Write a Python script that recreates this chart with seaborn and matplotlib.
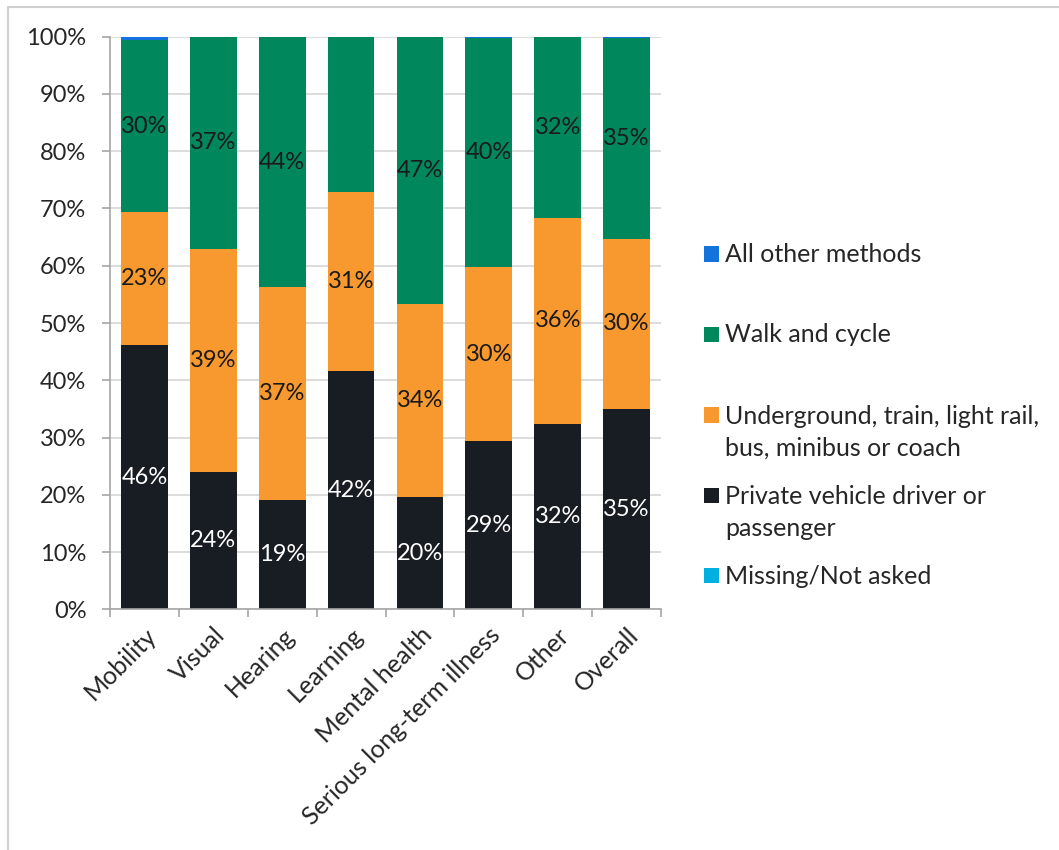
import numpy as np
import pandas as pd
import matplotlib
matplotlib.use("Agg")
import matplotlib.pyplot as plt
import seaborn as sns
from matplotlib.lines import Line2D
from matplotlib.patches import Rectangle

# Travel method shares (%) by type of impairment
categories = ["Mobility", "Visual", "Hearing", "Learning", "Mental health",
              "Serious long-term illness", "Other", "Overall"]
missing = [0.0, 0.0, 0.0, 0.0, 0.0, 0.0, 0.0, 0.0]
private_vehicle = [46.2, 23.9, 19.1, 41.6, 19.6, 29.4, 32.4, 35.0]
public_transport = [23.1, 39.1, 37.1, 31.2, 33.7, 30.3, 35.9, 29.7]
walk_cycle = [30.2, 37.0, 43.8, 27.2, 46.7, 40.1, 31.7, 35.1]
other_methods = [0.5, 0.0, 0.0, 0.0, 0.0, 0.2, 0.0, 0.2]

series_names = ["Missing/Not asked", "Private vehicle driver or passenger",
                "Underground, train, light rail, bus, minibus or coach",
                "Walk and cycle", "All other methods"]
series_values = [missing, private_vehicle, public_transport, walk_cycle, other_methods]
series_colors = ["#00B0E0", "#181C23", "#F7992F", "#00875C", "#1372DC"]
label_colors = [None, "white", "#1a1a1a", "#1a1a1a", None]
# segments whose value label is shown
show_labels = [
    [False] * 8,
    [True] * 8,
    [True] * 8,
    [True, True, True, False, True, True, True, True],
    [False] * 8,
]

legend_lines = [
    ["All other methods"],
    ["Walk and cycle"],
    ["Underground, train, light rail,", "bus, minibus or coach"],
    ["Private vehicle driver or", "passenger"],
    ["Missing/Not asked"],
]
legend_colors = ["#1372DC", "#00875C", "#F7992F", "#181C23", "#00B0E0"]

sns.set_style("white")
plt.rcParams["font.family"] = ["Lato", "DejaVu Sans"]
text_color = "#262626"

fig = plt.figure(figsize=(10.59, 8.5), dpi=100)
ax = fig.add_axes([110 / 1059, 1 - 609.3 / 850, 551 / 1059, 572.6 / 850])

vals = np.array(series_values)
cum = np.cumsum(vals, axis=0)

# Stacked bars: draw cumulative totals from the top layer down
for i in range(len(series_names) - 1, -1, -1):
    df = pd.DataFrame({"category": categories, "value": cum[i]})
    sns.barplot(data=df, x="category", y="value", color=series_colors[i],
                saturation=1, width=0.68, ax=ax, zorder=2, linewidth=0)

# Value labels centred in each segment
for i in range(len(series_names)):
    for j in range(len(categories)):
        if not show_labels[i][j]:
            continue
        v = vals[i, j]
        y = cum[i, j] - v / 2
        ax.text(j, y, f"{v:.0f}%", ha="center", va="center",
                fontsize=17, color=label_colors[i], zorder=5)

ax.set_xlim(-0.5, len(categories) - 0.5)
ax.set_ylim(0, 100)
ax.set_yticks(np.arange(0, 101, 10))
ax.set_yticklabels([f"{t}%" for t in range(0, 101, 10)])
ax.yaxis.grid(True, color="#D9D9D9", linewidth=1.3, zorder=0)
ax.set_axisbelow(True)
ax.set_xlabel("")
ax.set_ylabel("")

for side in ["top", "right"]:
    ax.spines[side].set_visible(False)
for side in ["left", "bottom"]:
    ax.spines[side].set_color("#A6A6A6")
    ax.spines[side].set_linewidth(1.2)

ax.tick_params(axis="y", which="major", length=6, width=1.2, color="#A6A6A6",
               pad=11, labelsize=17, labelcolor=text_color, left=True)
ax.set_xticks(range(len(categories)))
ax.set_xticklabels(categories, rotation=45, ha="right", rotation_mode="anchor")
ax.tick_params(axis="x", which="major", length=0, pad=10, labelsize=18,
               labelcolor=text_color, bottom=True)
ax.set_xticks(np.arange(-0.5, len(categories)), minor=True)
ax.tick_params(axis="x", which="minor", length=6, width=1.2, color="#A6A6A6",
               bottom=True)

# Legend entries
sq = 15 / 850
base_y = [262.5, 342.5, 423.5, 503.5, 583.5]
line_gap = 32
for k, lines in enumerate(legend_lines):
    yb = base_y[k]
    fig.patches.append(Rectangle((704 / 1059, 1 - (yb - 1) / 850), 15 / 1059, sq,
                                 transform=fig.transFigure,
                                 facecolor=legend_colors[k], edgecolor="none"))
    for m, line in enumerate(lines):
        fig.text(725 / 1059, 1 - (yb + m * line_gap) / 850, line,
                 ha="left", va="baseline", fontsize=18, color=text_color)

# Chart frame
fig.add_artist(Line2D([8 / 1059, 1], [1 - 7 / 850, 1 - 7 / 850],
                      transform=fig.transFigure, color="#D0D0D0", linewidth=1.5))
fig.add_artist(Line2D([8 / 1059, 8 / 1059], [0, 1 - 7 / 850],
                      transform=fig.transFigure, color="#D0D0D0", linewidth=1.5))

fig.savefig("out.png", dpi=100, facecolor="white")
